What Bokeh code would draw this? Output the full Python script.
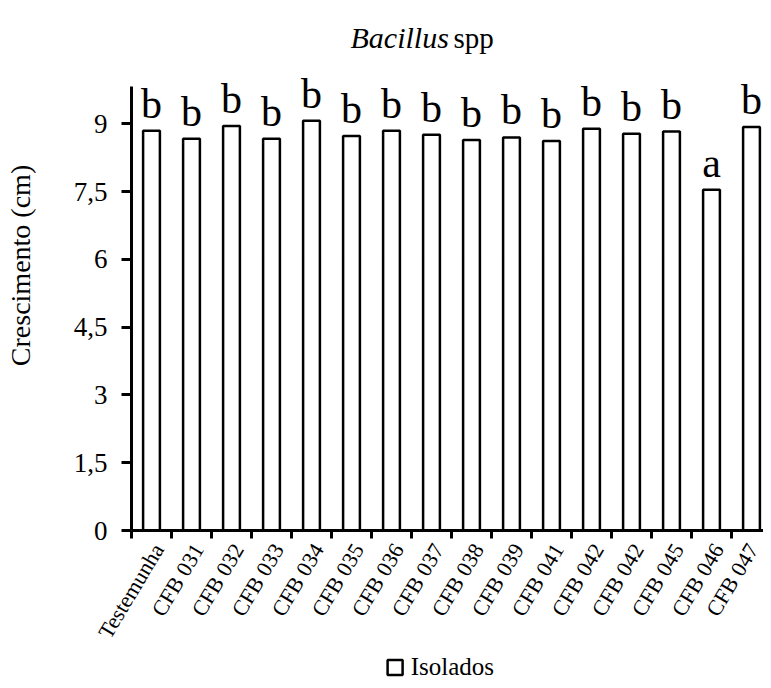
import math
from bokeh.plotting import figure
from bokeh.layouts import column
from bokeh.models import (ColumnDataSource, FixedTicker, CustomJSTickFormatter,
                          Range1d, LabelSet)
from bokeh.core.properties import value
from bokeh.embed import file_html
from bokeh.resources import INLINE

# ---- data ----
isolates = ["Testemunha", "CFB 031", "CFB 032", "CFB 033", "CFB 034", "CFB 035",
            "CFB 036", "CFB 037", "CFB 038", "CFB 039", "CFB 041", "CFB 042",
            "CFB 042", "CFB 045", "CFB 046", "CFB 047"]
growth = [8.85, 8.67, 8.95, 8.67, 9.07, 8.73, 8.85, 8.76, 8.64, 8.70, 8.62,
          8.89, 8.78, 8.83, 7.54, 8.93]
letters = ["b", "b", "b", "b", "b", "b", "b", "b", "b", "b", "b", "b", "b",
           "b", "a", "b"]
y_ticks = [0, 1.5, 3, 4.5, 6, 7.5, 9]
legend_label = "Isolados"

FONT = "Liberation Serif"

xpos = [i + 0.5 for i in range(len(isolates))]
src = ColumnDataSource(dict(x=xpos, top=growth, letter=letters))

xr = Range1d(0, 15.8)
p = figure(width=763, height=652, output_backend="svg", toolbar_location=None,
           x_range=xr, y_range=Range1d(0, 11.73),
           min_border_left=131, min_border_right=0, min_border_top=0,
           min_border_bottom=121)
p.outline_line_color = None
p.grid.visible = False
p.background_fill_color = "white"
p.border_fill_color = "white"

bars = p.vbar(x="x", top="top", width=0.42, source=src, fill_color="white",
              line_color="black", line_width=2.5)

p.add_layout(LabelSet(x="x", y="top", text="letter", source=src,
                      text_font=FONT, text_font_size="42px",
                      text_align="center", text_baseline="alphabetic",
                      y_offset=13, text_color="black"))

# title
p.text(x=[5.475], y=[10.91], text=["Bacillus"], text_font=value(FONT),
       text_font_style="italic", text_font_size="30px", text_align="left",
       text_baseline="alphabetic", text_color="black")
p.text(x=[8.05], y=[10.91], text=["spp"], text_font=value(FONT),
       text_font_size="29px", text_align="left",
       text_baseline="alphabetic", text_color="black")

# y axis
ya = p.yaxis[0]
ya.bounds = (0, 9.83)
ya.ticker = FixedTicker(ticks=y_ticks)
ya.formatter = CustomJSTickFormatter(code="return tick.toString().replace('.', ',');")
ya.axis_label = "Crescimento (cm)"
ya.axis_label_text_font = FONT
ya.axis_label_text_font_style = "normal"
ya.axis_label_text_font_size = "28px"
ya.axis_label_text_color = "black"
ya.axis_label_standoff = 35
ya.major_label_text_font = FONT
ya.major_label_text_font_size = "27px"
ya.major_label_text_color = "black"
ya.major_label_standoff = 14
ya.axis_line_width = 3
ya.major_tick_line_width = 3
ya.major_tick_out = 10
ya.major_tick_in = 0
ya.minor_tick_line_color = None

# x axis: labels under bars (nudged right like the original), ticks at boundaries
xa = p.xaxis[0]
xa.ticker = FixedTicker(ticks=[i + 0.67 for i in range(len(isolates))],
                        minor_ticks=list(range(len(isolates) + 1)))
xa.formatter = CustomJSTickFormatter(args=dict(names=isolates),
                                     code="return names[Math.floor(tick)];")
xa.major_label_orientation = math.radians(59)
xa.major_label_text_font = FONT
xa.major_label_text_font_size = "22px"
xa.major_label_text_color = "black"
xa.major_label_standoff = 7
xa.axis_line_width = 3
xa.major_tick_out = 0
xa.major_tick_in = 0
xa.major_tick_line_color = None
xa.minor_tick_out = 8
xa.minor_tick_in = 0
xa.minor_tick_line_width = 3
xa.minor_tick_line_color = "black"

# legend strip (shares the x scale of the chart)
leg = figure(width=763, height=28, output_backend="svg", toolbar_location=None,
             x_range=xr, y_range=Range1d(0, 28),
             x_axis_type=None, y_axis_type=None, min_border=0,
             min_border_left=131, min_border_right=0,
             min_border_top=0, min_border_bottom=0)
leg.outline_line_color = None
leg.grid.visible = False
leg.scatter(x=[6.59], y=[13], marker="square", size=15, fill_color="white",
            line_color="black", line_width=2.5)
leg.text(x=[6.98], y=[14], text=[legend_label], text_font=value(FONT),
         text_font_size="25px", text_align="left", text_baseline="middle",
         text_color="black")

layout = column(p, leg, spacing=0)
open("out.html", "w").write(file_html(layout, INLINE))
